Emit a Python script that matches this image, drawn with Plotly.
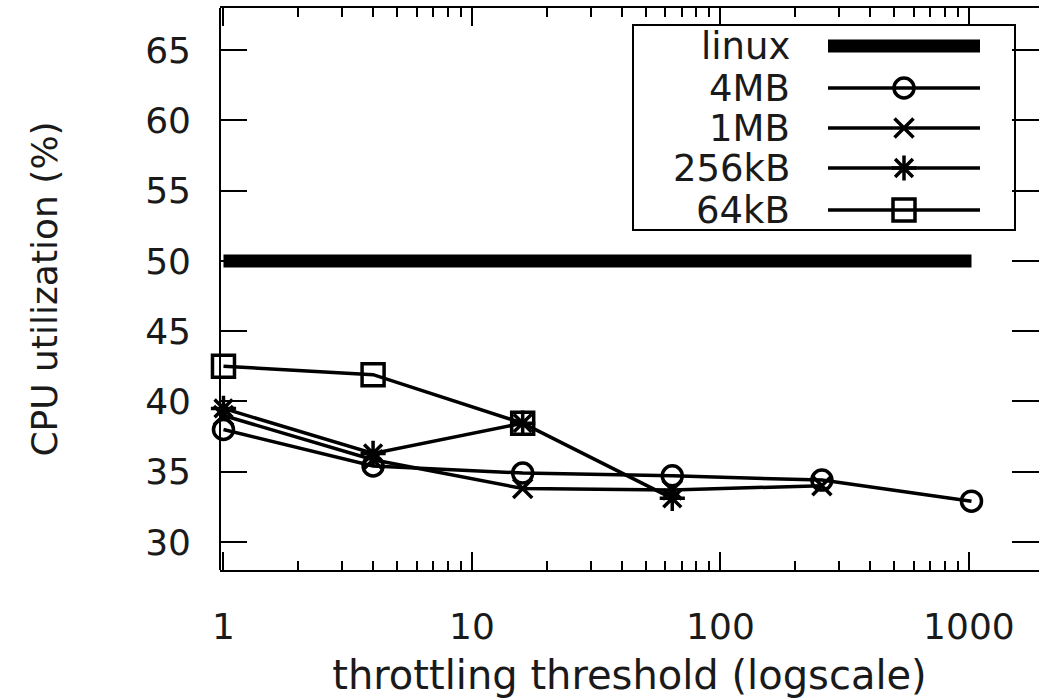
import plotly.graph_objects as go

# ---- data ----
thresholds = [1, 4, 16, 64, 256, 1024]
linux_cpu = [50, 50, 50, 50, 50, 50]
cpu_4mb = [38.0, 35.4, 34.9, 34.7, 34.4, 32.9]
cpu_1mb = [39.0, 35.85, 33.8, 33.7, 34.0]
cpu_256kb = [39.5, 36.3, 38.45, 33.1]
cpu_64kb = [42.5, 41.9, 38.45]

series_names = ["linux", "4MB", "1MB", "256kB", "64kB"]
series_symbols = [None, "circle-open", "x-thin-open", "asterisk-open", "square-open"]
series_sizes = [0, 20, 19, 21, 22]

y_ticks = [30, 35, 40, 45, 50, 55, 60, 65]
x_ticks = [1, 10, 100, 1000]
x_ticktext = ["1", "10", "100", "1000"]
x_minor = [2, 3, 4, 5, 6, 7, 8, 9, 20, 30, 40, 50, 60, 70, 80, 90,
           200, 300, 400, 500, 600, 700, 800, 900]

FONT = "DejaVu Sans"
TXT = "#1a1a1a"
W, H = 1039, 698
L, R, T, B = 220, 0, 8, 128
LW = 3.5

fig = go.Figure()

# linux baseline
fig.add_trace(go.Scatter(x=thresholds, y=linux_cpu, mode="lines",
                         line=dict(color="black", width=13),
                         name="linux", showlegend=False, cliponaxis=False))

all_series = [cpu_4mb, cpu_1mb, cpu_256kb, cpu_64kb]
for vals, name, sym, sz in zip(all_series, series_names[1:], series_symbols[1:], series_sizes[1:]):
    fig.add_trace(go.Scatter(
        x=thresholds[:len(vals)], y=vals, mode="lines+markers", name=name,
        line=dict(color="black", width=LW),
        marker=dict(symbol=sym, size=sz, color="black",
                    line=dict(color="black", width=LW)),
        showlegend=False, cliponaxis=False))

# ---- hand-made gnuplot-style key (pixel-coordinate overlay axes) ----
key_rows = [46, 88, 128, 168, 210]
key_line_x = [828, 980]
key_mark_x = 904
key_text_x = 792
for i, (name, sym, sz) in enumerate(zip(series_names, series_symbols, series_sizes)):
    yy = key_rows[i]
    fig.add_trace(go.Scatter(
        x=key_line_x, y=[yy, yy], mode="lines", xaxis="x3", yaxis="y3",
        line=dict(color="black", width=13 if i == 0 else LW),
        showlegend=False, hoverinfo="skip", cliponaxis=False))
    if sym is not None:
        fig.add_trace(go.Scatter(
            x=[key_mark_x], y=[yy], mode="markers", xaxis="x3", yaxis="y3",
            marker=dict(symbol=sym, size=sz, color="black",
                        line=dict(color="black", width=LW)),
            showlegend=False, hoverinfo="skip", cliponaxis=False))
    fig.add_annotation(x=key_text_x, y=yy, xref="x3", yref="y3", text=name,
                       showarrow=False, xanchor="right", yanchor="middle",
                       font=dict(family=FONT, size=37, color=TXT))

fig.add_shape(type="rect", xref="x3", yref="y3", x0=633, x1=1015, y0=25, y1=230,
              line=dict(color="black", width=2), layer="above")
# left border (the right border lies just outside the picture, as in the reference)
fig.add_shape(type="line", xref="paper", yref="paper", x0=0, x1=0, y0=0, y1=1,
              line=dict(color="black", width=2), layer="above")

axis_font = dict(family=FONT, size=36, color=TXT)

fig.update_layout(
    width=W, height=H,
    margin=dict(l=L, r=R, t=T, b=B, autoexpand=False),
    paper_bgcolor="white", plot_bgcolor="white",
    showlegend=False,
    xaxis=dict(
        type="log", range=[-0.014, 3.282],
        tickmode="array", tickvals=x_ticks, ticktext=x_ticktext,
        ticks="inside", ticklen=18, tickwidth=2, tickcolor="black",
        minor=dict(tickmode="array", tickvals=x_minor, ticks="inside",
                   ticklen=9, tickwidth=2, tickcolor="black", showgrid=False),
        showline=True, linecolor="black", linewidth=2, mirror="ticks",
        showgrid=False, zeroline=False,
        tickfont=axis_font, ticklabelstandoff=24,
        title=dict(text="throttling threshold (logscale)",
                   font=dict(family=FONT, size=40, color=TXT), standoff=22),
    ),
    yaxis=dict(
        range=[28, 68], tickmode="array", tickvals=y_ticks,
        ticks="inside", ticklen=27, tickwidth=2, tickcolor="black",
        showline=False, mirror="ticks",
        showgrid=False, zeroline=False,
        tickfont=axis_font, ticklabelstandoff=28,
        title=dict(text="CPU utilization (%)",
                   font=dict(family=FONT, size=36, color=TXT), standoff=76),
    ),
    xaxis3=dict(domain=[0, 1], range=[L, W - R], overlaying="x", anchor="y3",
                visible=False, fixedrange=True),
    yaxis3=dict(domain=[0, 1], range=[H - B, T], overlaying="y", anchor="x3",
                visible=False, fixedrange=True),
)

fig.write_html("out.html")
